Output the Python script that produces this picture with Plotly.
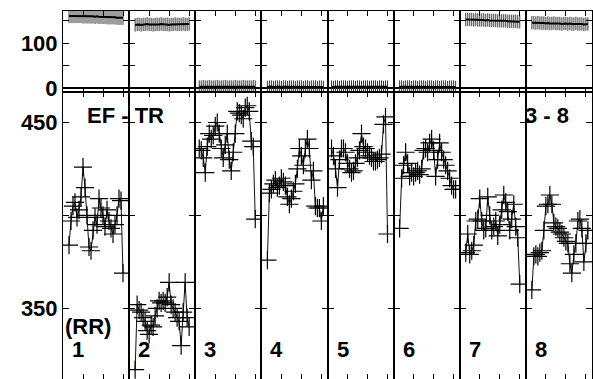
import plotly.graph_objects as go
from plotly.subplots import make_subplots

# bottom panel: EF - TR per run (sample index starts at first_x)
first_x = [3, 3, 2, 3, 2, 3, 3, 3]
ef1 = [384, 397, 405, 407, 399, 403, 410, 426, 415, 400, 383, 381, 392, 399, 395,
       409, 404, 400, 394, 403, 397, 393, 390, 395, 400, 409, 408, 369]
ef2 = [317, 352, 349, 348, 345, 343, 338, 336, 341, 340, 346, 350, 354, 353, 354,
       353, 356, 364, 352, 350, 348, 345, 343, 330, 348, 364, 345, 340]
ef3 = [436, 435, 431, 423, 437, 444, 441, 443, 448, 450, 444, 436, 431, 438, 444,
       430, 424, 434, 444, 456, 455, 454, 452, 458, 459, 456, 440, 437, 398]
ef4 = [376, 412, 414, 417, 419, 415, 416, 420, 418, 416, 410, 406, 409, 413, 417,
       425, 436, 432, 427, 436, 441, 436, 419, 424, 405, 404, 404, 397, 405]
ef5 = [436, 432, 425, 415, 430, 436, 436, 434, 428, 425, 423, 424, 428, 431, 435,
       444, 437, 436, 434, 432, 431, 429, 429, 430, 431, 433, 449, 453, 390]
ef6 = [393, 420, 427, 434, 428, 421, 423, 421, 423, 424, 422, 425, 435, 436, 434,
       439, 441, 435, 421, 430, 439, 434, 430, 427, 424, 420, 416, 414, 414]
ef7 = [380, 390, 379, 381, 384, 397, 398, 409, 397, 392, 393, 410, 400, 392, 394,
       397, 389, 395, 403, 411, 407, 402, 392, 398, 406, 394, 388, 363]
ef8 = [360, 378, 379, 378, 380, 381, 392, 405, 406, 411, 406, 396, 394, 393, 391,
       390, 388, 386, 385, 374, 369, 379, 385, 397, 398, 393, 375, 385, 392]

# top panel: RR per run, with spread
tr1 = [161, 161, 161, 161, 161, 161, 161, 160, 160, 160, 160, 160, 160, 159, 160,
       159, 159, 159, 159, 158, 158, 158, 158, 158, 157, 157, 157, 157]
tr2 = [141, 142, 142, 141, 142, 142, 143, 142, 142, 141, 142, 142, 142, 143, 142,
       142, 142, 141, 142, 142, 143, 142, 142, 142, 143, 142, 142, 143]
tr3 = [3, 3, 4, 3, 3, 4, 3, 3, 3, 4, 3, 3, 3, 4, 3, 3, 3, 3, 4, 3, 3, 3, 4, 3, 3,
       3, 3, 4, 3]
tr4 = [2, 3, 3, 2, 3, 3, 3, 2, 3, 3, 2, 3, 3, 3, 2, 3, 3, 3, 2, 3, 3, 2, 3, 3, 3,
       2, 3, 3, 2]
tr5 = [3, 2, 3, 3, 2, 3, 3, 3, 2, 3, 3, 3, 2, 3, 3, 2, 3, 3, 3, 2, 3, 3, 3, 2, 3,
       3, 2, 3, 3]
tr6 = [3, 3, 2, 3, 3, 3, 2, 3, 3, 2, 3, 3, 3, 2, 3, 3, 3, 2, 3, 3, 2, 3, 3, 3, 2,
       3, 3, 3, 2]
tr7 = [153, 153, 153, 153, 152, 153, 152, 152, 152, 152, 151, 152, 151, 151, 151,
       151, 150, 150, 150, 150, 150, 149, 149, 149, 149, 149, 148, 148]
tr8 = [146, 146, 145, 146, 145, 145, 145, 144, 145, 144, 144, 145, 144, 144, 144,
       143, 144, 144, 143, 144, 143, 143, 144, 143, 143, 143, 142, 143, 143]
tr_err = [16, 15, 14, 14, 14, 14, 15, 15]

run_labels = ['1', '2', '3', '4', '5', '6', '7', '8']

ef = [ef1, ef2, ef3, ef4, ef5, ef6, ef7, ef8]
tr = [tr1, tr2, tr3, tr4, tr5, tr6, tr7, tr8]

fig = make_subplots(rows=2, cols=8, horizontal_spacing=0, vertical_spacing=0,
                    row_heights=[81 / 368, 287 / 368])

for i in range(8):
    xs = list(range(first_x[i], first_x[i] + len(ef[i])))
    fig.add_trace(go.Scatter(x=xs, y=tr[i], mode='lines',
                             line=dict(color='black', width=2),
                             error_y=dict(type='constant', value=tr_err[i],
                                          color='#3a3a3a', thickness=1, width=0)),
                  row=1, col=i + 1)
    fig.add_trace(go.Scatter(x=xs, y=ef[i], mode='lines+markers',
                             line=dict(color='#111', width=1),
                             marker=dict(symbol='cross-thin', size=13,
                                         line=dict(color='black', width=1.2))),
                  row=2, col=i + 1)

bold = dict(family='Liberation Sans, Arial', size=22, color='black', weight='bold')

fig.update_xaxes(range=[0, 33.06], showline=True, mirror='ticks', linecolor='black',
                 linewidth=1, ticks='inside', ticklen=5, tickcolor='black',
                 tickvals=[10, 20, 30], showticklabels=False, showgrid=False,
                 zeroline=False, automargin=False)
fig.update_yaxes(showline=True, mirror='ticks', linecolor='black', linewidth=1,
                 ticks='inside', ticklen=6, tickcolor='black', showgrid=False,
                 zeroline=False, showticklabels=False, tickfont=bold,
                 automargin=False)
fig.update_yaxes(range=[-9, 172], tickvals=[0, 50, 100, 150],
                 ticktext=['0', '', '100', ''], zeroline=True,
                 zerolinecolor='black', zerolinewidth=1.5, row=1)
fig.update_yaxes(range=[312, 466.4], tickvals=[350, 400, 450],
                 ticktext=['350', '', '450'], row=2)
fig.update_yaxes(showticklabels=True, col=1)

fig.add_annotation(text='EF - TR', xref='paper', yref='paper', x=0.119, y=0.715,
                   xanchor='center', yanchor='middle', showarrow=False, font=bold)
fig.add_annotation(text='3 - 8', xref='paper', yref='paper', x=0.915, y=0.715,
                   xanchor='center', yanchor='middle', showarrow=False, font=bold)
fig.add_annotation(text='(RR)', xref='x9', yref='y9', x=12.5, y=340,
                   xanchor='center', yanchor='middle', showarrow=False, font=bold)
for i, lab in enumerate(run_labels):
    fig.add_annotation(text=lab, xref=f'x{9 + i}', yref=f'y{9 + i}', x=7.6, y=328,
                       xanchor='center', yanchor='middle', showarrow=False,
                       font=bold)

fig.update_layout(width=593, height=379, margin=dict(l=63, r=1, t=11, b=0),
                  paper_bgcolor='white', plot_bgcolor='white', showlegend=False)

# drop the page's default body margin so the figure sits at the top-left corner
fig.write_html("out.html", config={'displayModeBar': False},
               post_script="document.body.style.margin='0';")
